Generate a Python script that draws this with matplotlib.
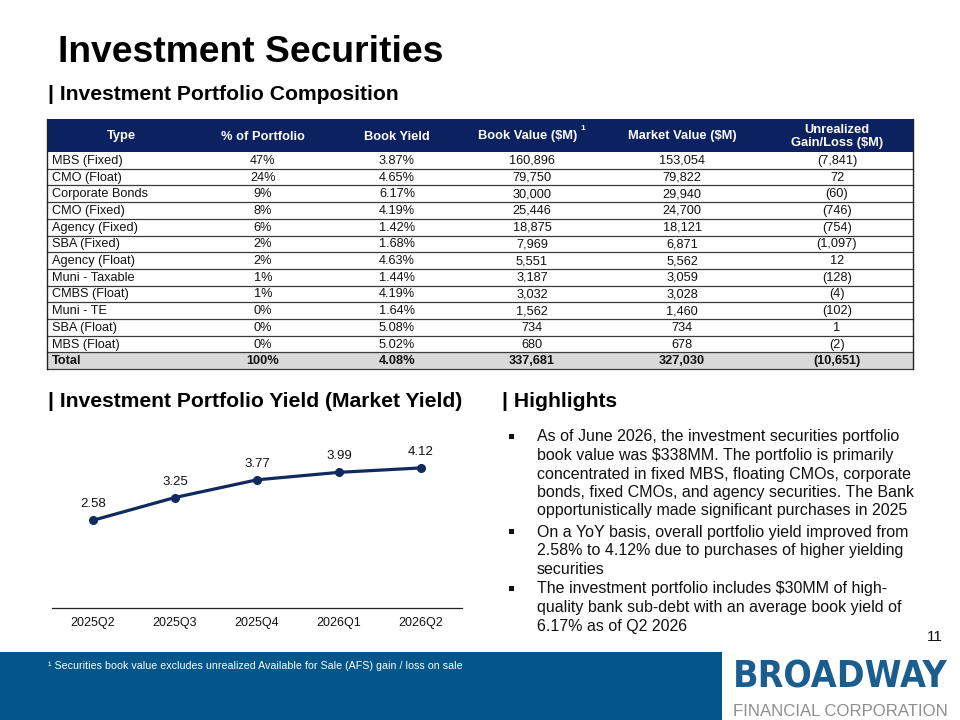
import matplotlib
matplotlib.use("Agg")
import matplotlib.pyplot as plt
from matplotlib.patches import Rectangle
from matplotlib import font_manager as fm

plt.rcParams['font.family'] = ['Liberation Sans', 'DejaVu Sans']

# ---------------- data ----------------
types = ["MBS (Fixed)", "CMO (Float)", "Corporate Bonds", "CMO (Fixed)", "Agency (Fixed)",
         "SBA (Fixed)", "Agency (Float)", "Muni - Taxable", "CMBS (Float)", "Muni - TE",
         "SBA (Float)", "MBS (Float)"]
pct_portfolio = [47, 24, 9, 8, 6, 2, 2, 1, 1, 0, 0, 0]
book_yield = [3.87, 4.65, 6.17, 4.19, 1.42, 1.68, 4.63, 1.44, 4.19, 1.64, 5.08, 5.02]
book_value = [160896, 79750, 30000, 25446, 18875, 7969, 5551, 3187, 3032, 1562, 734, 680]
market_value = [153054, 79822, 29940, 24700, 18121, 6871, 5562, 3059, 3028, 1460, 734, 678]
unrealized = [-7841, 72, -60, -746, -754, -1097, 12, -128, -4, -102, 1, -2]
total_row = ["Total", 100, 4.08, 337681, 327030, -10651]
headers = ["Type", "% of Portfolio", "Book Yield", "Book Value (\\$M)", "Market Value (\\$M)",
           "Unrealized\nGain/Loss (\\$M)"]

quarters = ["2025Q2", "2025Q3", "2025Q4", "2026Q1", "2026Q2"]
market_yield = [2.58, 3.25, 3.77, 3.99, 4.12]

highlight_lines = [
    ("As of June 2026, the investment securities portfolio", True),
    ("book value was \\$338MM. The portfolio is primarily", False),
    ("concentrated in fixed MBS, floating CMOs, corporate", False),
    ("bonds, fixed CMOs, and agency securities. The Bank", False),
    ("opportunistically made significant purchases in 2025", False),
    ("On a YoY basis, overall portfolio yield improved from", True),
    ("2.58% to 4.12% due to purchases of higher yielding", False),
    ("securities", False),
    ("The investment portfolio includes \\$30MM of high-", True),
    ("quality bank sub-debt with an average book yield of", False),
    ("6.17% as of Q2 2026", False),
]

# ---------------- helpers ----------------
def fmt_int(v):
    return f"{v:,}"

def fmt_gl(v):
    return f"({abs(v):,})" if v < 0 else f"{v:,}"

NAVY = "#0C2160"
LINE_NAVY = "#0E2A5E"
FOOT_BLUE = "#02568A"

fig = plt.figure(figsize=(9.6, 7.2), dpi=100)
bg = fig.add_axes([0, 0, 1, 1])
bg.set_xlim(0, 960)
bg.set_ylim(720, 0)
bg.axis("off")

# titles
bg.text(58, 62, "Investment Securities", fontsize=26.8, fontweight="bold", va="baseline", ha="left")
bg.text(48, 100, "| Investment Portfolio Composition", fontsize=15.2, fontweight="bold", va="baseline")
bg.text(48, 407, "| Investment Portfolio Yield (Market Yield)", fontsize=15.2, fontweight="bold", va="baseline")
bg.text(502, 407, "| Highlights", fontsize=15.2, fontweight="bold", va="baseline")

# ---------------- table ----------------
TX0, TX1 = 47, 913
HT, HB = 119, 152
RH = 16.7
col_x = [52, 263, 397, 532, 682, 837]
head_x = [121, 263, 397, 528, 682, 837]

bg.add_patch(Rectangle((TX0, HT), TX1 - TX0, HB - HT, color=NAVY, lw=0))
for i, h in enumerate(headers):
    bg.text(head_x[i], (HT + HB) / 2 + 1, h, color="white", fontsize=9.3, fontweight="bold",
            ha="center", va="center", linespacing=1.15)
bg.text(580, 129, "1", color="white", fontsize=6, fontweight="bold", ha="left", va="center")

n = len(types)
for r in range(n + 1):
    y0 = HB + r * RH
    yc = y0 + RH / 2 + 0.5
    if r < n:
        vals = [types[r], f"{pct_portfolio[r]}%", f"{book_yield[r]:.2f}%", fmt_int(book_value[r]),
                fmt_int(market_value[r]), fmt_gl(unrealized[r])]
        weight = "normal"
    else:
        bg.add_patch(Rectangle((TX0, y0), TX1 - TX0, RH, color="#D9D9D9", lw=0))
        t = total_row
        vals = [t[0], f"{t[1]}%", f"{t[2]:.2f}%", fmt_int(t[3]), fmt_int(t[4]), fmt_gl(t[5])]
        weight = "bold"
    for c, v in enumerate(vals):
        bg.text(col_x[c], yc, v, fontsize=9.2, fontweight=weight,
                ha="left" if c == 0 else "center", va="center", color="#111111")
    bg.plot([TX0, TX1], [y0 + RH, y0 + RH], color="#3a3a3a", lw=0.9)
bottom = HB + (n + 1) * RH
bg.plot([TX0, TX0], [HT, bottom], color="#222222", lw=1)
bg.plot([TX1, TX1], [HT, bottom], color="#222222", lw=1)

# ---------------- line chart ----------------
L, R, B, T = 52, 462, 608, 438
ax = fig.add_axes([L / 960, (720 - B) / 720, (R - L) / 960, (B - T) / 720])
xs = list(range(len(quarters)))
ax.plot(xs, market_yield, color=LINE_NAVY, lw=2.3, marker="o", markersize=5.5,
        markerfacecolor=LINE_NAVY, markeredgecolor=LINE_NAVY)
for x, v in zip(xs, market_yield):
    ax.annotate(f"{v:.2f}", (x, v), xytext=(0, 11.5), textcoords="offset points",
                ha="center", va="center", fontsize=9.5, color="#111111")
ax.set_xlim(-0.5, len(quarters) - 0.5)
ax.set_ylim(0, 5)
ax.set_xticks(xs)
ax.set_xticklabels(quarters, fontsize=9)
ax.set_yticks([])
ax.tick_params(axis="x", length=0, pad=6.5, colors="#111111")
for s in ["top", "left", "right"]:
    ax.spines[s].set_visible(False)
ax.spines["bottom"].set_color("#222222")
ax.spines["bottom"].set_linewidth(0.9)
ax.patch.set_alpha(0)

# ---------------- highlights ----------------
line_y = [437, 455.5, 474, 492.5, 511, 532, 550.5, 569, 589, 607.5, 626]
for (txt, bullet), y in zip(highlight_lines, line_y):
    if bullet:
        bg.add_patch(Rectangle((508.5, y - 3), 5, 5, color="#111111", lw=0))
    bg.text(537, y, txt, fontsize=11.5, ha="left", va="center", color="#111111")

bg.text(935, 637, "11", fontsize=11, ha="center", va="center", color="#111111")

# ---------------- footer ----------------
bg.add_patch(Rectangle((0, 652), 722, 68, color=FOOT_BLUE, lw=0))
bg.text(48, 666, "\u00b9 Securities book value excludes unrealized Available for Sale (AFS) gain / loss on sale",
        fontsize=7.7, color="white", ha="left", va="center")

# logo text: prefer a condensed bold face if one is installed
cond = [f for f in fm.fontManager.ttflist
        if (("Condensed" in f.name or "Narrow" in f.name or
             str(f.stretch) in ("condensed", "semi-condensed", "extra-condensed", "ultra-condensed"))
            and str(f.weight) in ("bold", "700", "heavy", "800", "black", "900", "extra bold"))]
if cond:
    logo_prop = fm.FontProperties(fname=cond[0].fname)
else:
    logo_prop = fm.FontProperties(family="Liberation Sans", weight="bold")

renderer = fig.canvas.get_renderer()

def fit_text(x, y, s, width_px, prop, size0, **kw):
    t = bg.text(x, y, s, fontproperties=prop, ha="center", va="center", **kw)
    t.set_fontsize(size0)
    w = t.get_window_extent(renderer=renderer).width
    t.set_fontsize(size0 * width_px / w)
    return t

fit_text(840, 677, "BROADWAY", 214, logo_prop, 30, color="#1C5D90")
fit_text(840, 711, "FINANCIAL CORPORATION", 214,
         fm.FontProperties(family="Liberation Sans"), 11, color="#8E8E8E")

fig.savefig("out.png", dpi=100)
